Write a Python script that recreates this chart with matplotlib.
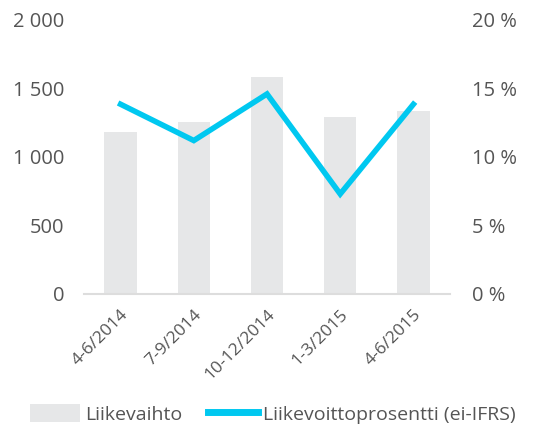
import matplotlib
matplotlib.use("Agg")
import matplotlib.pyplot as plt
from matplotlib.ticker import FuncFormatter

plt.rcParams['font.family'] = ['Open Sans', 'DejaVu Sans']

# --- data ---
quarters = ["4-6/2014", "7-9/2014", "10-12/2014", "1-3/2015", "4-6/2015"]
revenue = [1185, 1258, 1582, 1290, 1333]          # Liikevaihto
margin_pct = [13.85, 11.2, 14.6, 7.3, 13.85]      # Liikevoittoprosentti (ei-IFRS)

TEXT = "#555555"
BAR = "#E6E7E8"
LINE = "#00C8F0"

fig = plt.figure(figsize=(5.54, 4.28), dpi=100)
ax = fig.add_axes([0.1516, 0.3131, 0.6607, 0.6402])
ax2 = ax.twinx()

x = range(len(quarters))
ax.bar(x, revenue, width=0.44, color=BAR, label="Liikevaihto", zorder=1)
ax2.plot(x, margin_pct, color=LINE, lw=4, solid_joinstyle="miter",
         label="Liikevoittoprosentti (ei-IFRS)", zorder=3)

ax.set_xlim(-0.5, 4.5)
ax.set_ylim(0, 2000)
ax2.set_ylim(0, 20)
ax.set_yticks([0, 500, 1000, 1500, 2000])
ax2.set_yticks([0, 5, 10, 15, 20])
ax.yaxis.set_major_formatter(FuncFormatter(lambda v, p: f"{int(v):,}".replace(",", " ")))
ax2.yaxis.set_major_formatter(FuncFormatter(lambda v, p: f"{int(v)} %"))

ax.set_xticks(list(x))
ax.set_xticklabels(quarters, rotation=45, ha="right", rotation_mode="anchor")

for a in (ax, ax2):
    for s in a.spines.values():
        s.set_visible(False)
    a.tick_params(length=0, colors=TEXT, labelsize=14.5)
ax.spines["bottom"].set_visible(True)
ax.spines["bottom"].set_color("#DDDDDD")
ax.spines["bottom"].set_linewidth(1.5)
ax.tick_params(axis="y", pad=14)
ax2.tick_params(axis="y", pad=16)
ax.tick_params(axis="x", pad=9, labelsize=12.5)

h1, l1 = ax.get_legend_handles_labels()
h2, l2 = ax2.get_legend_handles_labels()
leg = fig.legend(h1 + h2, l1 + l2, loc="center left", bbox_to_anchor=(0.054, 0.033),
                 ncol=2, frameon=False, fontsize=14, labelcolor=TEXT,
                 handlelength=2.6, handleheight=1.0, handletextpad=0.25, columnspacing=1.3,
                 borderaxespad=0, borderpad=0)
leg.get_lines()[0].set_linewidth(5)

fig.savefig("out.png", dpi=100)
